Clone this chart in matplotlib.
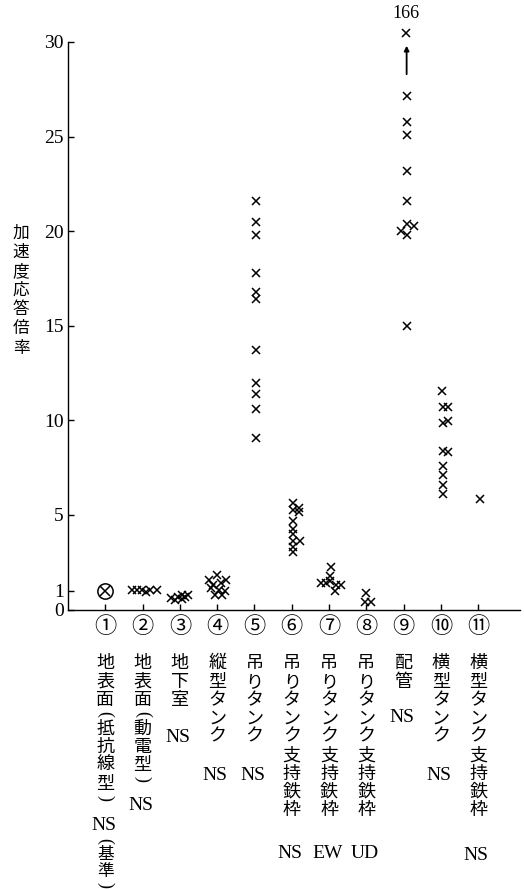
import matplotlib
matplotlib.use('Agg')
from matplotlib import pyplot as plt
from matplotlib import transforms
import numpy as np

CJK = ['Noto Sans CJK JP', 'DejaVu Sans']
SERIF = ['Liberation Serif', 'DejaVu Serif']

# measuring positions (circled numbers on the x axis)
tick_names = ['①', '②', '③', '④', '⑤', '⑥', '⑦', '⑧', '⑨', '⑩', '⑪']
place_names = ['地表面(抵抗線型)', '地表面(動電型)', '地下室', '縦型タンク', '吊りタンク',
               '吊りタンク支持鉄枠', '吊りタンク支持鉄枠', '吊りタンク支持鉄枠', '配管',
               '横型タンク', '横型タンク支持鉄枠']
directions = ['NS', 'NS', 'NS', 'NS', 'NS', 'NS', 'EW', 'UD', 'NS', 'NS', 'NS']

# acceleration response ratio per position (shift = small sideways spread of the crosses)
ratio_1 = [1.0]
shift_1 = [0.0]
ratio_2 = [1.05, 1.05, 1.02, 0.95, 1.03, 1.05]
shift_2 = [-0.28, -0.15, -0.02, 0.08, 0.2, 0.38]
ratio_3 = [0.6, 0.5, 0.68, 0.75, 0.68, 0.78, 0.55]
shift_3 = [-0.24, -0.14, -0.05, 0.07, 0.14, 0.22, 0.05]
ratio_4 = [1.56, 1.8, 1.56, 1.3, 1.39, 1.12, 1.03, 1.0, 0.78, 0.78]
shift_4 = [-0.22, 0.0, 0.24, -0.12, 0.09, -0.16, 0.04, 0.2, -0.05, 0.12]
ratio_5 = [21.6, 20.5, 19.8, 17.8, 16.8, 16.4, 13.7, 12.0, 11.4, 10.6, 9.05]
shift_5 = [0.03] * 11
ratio_6 = [5.62, 5.26, 5.39, 5.17, 4.68, 4.24, 3.98, 3.62, 3.62, 3.32, 3.03]
shift_6 = [0.02, 0.02, 0.19, 0.19, 0.04, 0.03, 0.04, 0.21, 0.03, 0.04, 0.03]
ratio_7 = [1.38, 1.42, 2.25, 1.78, 1.5, 1.3, 1.3, 1.0]
shift_7 = [-0.21, -0.08, 0.05, 0.03, 0.03, 0.18, 0.33, 0.17]
ratio_8 = [0.86, 0.41, 0.41]
shift_8 = [-0.02, -0.03, 0.12]
ratio_9 = [166, 27.13, 25.76, 25.11, 23.16, 21.58, 20.4, 20.29, 19.99, 19.81, 15.0]
shift_9 = [0.06, 0.09, 0.09, 0.09, 0.09, 0.09, 0.1, 0.28, -0.08, 0.09, 0.08]
ratio_10 = [11.57, 10.69, 10.69, 9.88, 9.97, 8.37, 8.3, 7.57, 7.1, 6.6, 6.13]
shift_10 = [0.03, 0.05, 0.2, 0.05, 0.2, 0.05, 0.18, 0.05, 0.05, 0.05, 0.05]
ratio_11 = [5.82]
shift_11 = [0.04]

groups = [(2, shift_2, ratio_2), (3, shift_3, ratio_3), (4, shift_4, ratio_4),
          (5, shift_5, ratio_5), (6, shift_6, ratio_6), (7, shift_7, ratio_7),
          (8, shift_8, ratio_8), (9, shift_9, ratio_9), (10, shift_10, ratio_10),
          (11, shift_11, ratio_11)]

W, H = 524, 889


def main():
    fig = plt.figure(figsize=(W / 100, H / 100), dpi=100)
    ax = fig.add_axes([68 / W, 1 - 609.5 / H, 452 / W, 567.5 / H])
    ymax = 30

    # reference point (1) drawn as a circled cross
    ax.plot(np.array(shift_1) + 1, ratio_1, 'o', ms=11, mfc='none', mec='black', mew=1.1)
    ax.plot(np.array(shift_1) + 1, ratio_1, 'x', ms=7, color='black', mew=1.1)

    for pos, shift, ratio in groups:
        r = np.array(ratio, dtype=float)
        y = np.minimum(r, ymax + 0.45)   # off-scale values drawn just above the top
        ax.plot(np.array(shift) + pos, y, 'x', ms=6, color='black', mew=1.1, clip_on=False)
        for sx, rv in zip(shift, r):
            if rv > ymax:
                ax.text(pos + sx, ymax + 1.5, f'{rv:g}', ha='center', va='center',
                        fontsize=13, family=SERIF, clip_on=False)
                ax.annotate('', xy=(pos + sx + 0.02, ymax - 0.05), xytext=(pos + sx + 0.02, ymax - 1.85),
                            arrowprops=dict(arrowstyle='-|>', lw=1.3, color='black', mutation_scale=7))

    ax.set_xlim(0, 12.12)
    ax.set_ylim(0, ymax)
    ax.spines['top'].set_visible(False)
    ax.spines['right'].set_visible(False)
    ax.spines['left'].set_linewidth(1.0)
    ax.spines['bottom'].set_linewidth(1.0)

    ax.set_yticks([0, 1, 5, 10, 15, 20, 25, 30])
    ax.set_yticklabels(['0', '1', '5', '10', '15', '20', '25', '30'], family=SERIF, fontsize=14)
    ax.tick_params(axis='y', direction='in', length=4, width=1, pad=3)
    ax.set_xticks(range(1, 12))
    ax.set_xticklabels(tick_names, family=CJK, fontsize=16)
    ax.tick_params(axis='x', direction='in', length=4, width=1, pad=4)

    # y axis title written vertically
    for i, ch in enumerate('加速度応答倍率'):
        fig.text(21 / W, 1 - (233 + i * 19.2) / H, ch, ha='center', va='center',
                 fontsize=12, family=CJK)

    # vertical place names and directions under each tick
    trans = transforms.blended_transform_factory(ax.transData, fig.transFigure)
    dir_y = [825, 805, 737, 775, 775, 853, 853, 853, 717, 775, 856]

    def vertical(x, start, text, step=18.4, size=13):
        cur = start
        for ch in text:
            if ch in '()':
                h = 10
                ax.text(x, 1 - (cur + h / 2) / H, ch, ha='center', va='center', rotation=-90,
                        fontsize=13, family=SERIF, transform=trans)
            else:
                h = step
                ax.text(x, 1 - (cur + h / 2) / H, ch, ha='center', va='center',
                        fontsize=size, family=CJK, transform=trans)
            cur += h
        return cur

    for i, (name, d) in enumerate(zip(place_names, directions)):
        x = i + 1
        vertical(x, 654, name)
        ax.text(x - 0.05, 1 - dir_y[i] / H, d, ha='center', va='center',
                fontsize=14, family=SERIF, transform=trans)
    vertical(1, 836, '(基準)', step=17, size=12)

    fig.savefig('out.png', dpi=100)


if __name__ == '__main__':
    main()
